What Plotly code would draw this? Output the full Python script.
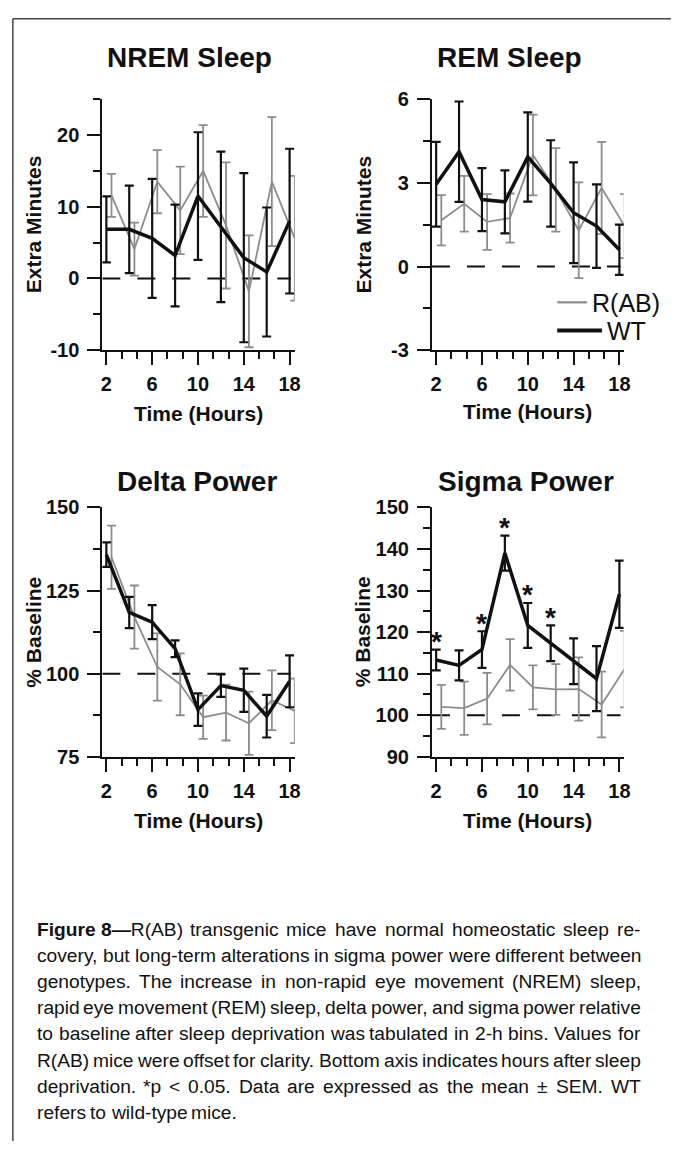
import plotly.graph_objects as go

W, H = 678, 1155

# ---------------- data ----------------
hours = [2, 4, 6, 8, 10, 12, 14, 16, 18]
rab_offset = 0.45  # R(AB) values are drawn offset for clarity

nrem_wt_mean = [6.85, 6.85, 5.6, 3.2, 11.5, 7.2, 2.9, 0.9, 8.0]
nrem_wt_sem = [4.6, 6.1, 8.3, 7.1, 8.9, 10.5, 11.8, 9.0, 10.1]
nrem_rab_mean = [11.6, 4.1, 13.5, 9.5, 15.0, 7.4, -1.8, 13.5, 5.6]
nrem_rab_sem = [3.0, 3.7, 4.4, 6.1, 6.4, 8.8, 7.8, 9.0, 8.7]

rem_wt_mean = [2.95, 4.12, 2.4, 2.32, 3.93, 2.98, 1.93, 1.45, 0.6]
rem_wt_sem = [1.52, 1.8, 1.13, 1.13, 1.6, 1.55, 1.81, 1.5, 0.9]
rem_rab_mean = [1.66, 2.25, 1.6, 1.74, 4.0, 2.75, 1.3, 2.82, 1.45]
rem_rab_sem = [0.9, 1.0, 1.0, 0.88, 1.45, 1.5, 1.72, 1.65, 1.15]

delta_wt_mean = [135.8, 118.4, 115.5, 107.5, 89.2, 96.4, 95.0, 87.2, 97.7]
delta_wt_sem = [3.7, 4.7, 5.1, 2.5, 4.9, 3.4, 6.5, 6.4, 7.8]
delta_rab_mean = [135.0, 117.0, 102.0, 96.8, 86.9, 88.3, 85.1, 92.0, 88.8]
delta_rab_sem = [9.5, 9.5, 10.1, 9.3, 6.5, 8.4, 9.5, 9.0, 9.7]

sigma_wt_mean = [113.3, 112.0, 115.8, 139.0, 121.6, 117.3, 113.0, 108.8, 129.1]
sigma_wt_sem = [2.5, 3.6, 4.4, 4.2, 5.4, 4.3, 5.5, 7.8, 8.1]
sigma_rab_mean = [102.0, 101.7, 104.0, 112.1, 106.7, 106.2, 106.3, 102.6, 111.1]
sigma_rab_sem = [5.3, 6.4, 6.2, 6.2, 5.3, 6.1, 7.6, 7.9, 9.2]
sigma_significant_hours = [2, 6, 8, 10, 12]

panel_titles = ["NREM Sleep", "REM Sleep", "Delta Power", "Sigma Power"]
y_titles = ["Extra Minutes", "Extra Minutes", "% Baseline", "% Baseline"]
x_title = "Time (Hours)"
x_tickvals = [2, 6, 10, 14, 18]
x_ticktext = ["2", "6", "10", "14", "18"]
nrem_tickvals = [-10, 0, 10, 20]
nrem_ticktext = ["-10", "0", "10", "20"]
rem_tickvals = [-3, 0, 3, 6]
rem_ticktext = ["-3", "0", "3", "6"]
delta_tickvals = [75, 100, 125, 150]
delta_ticktext = ["75", "100", "125", "150"]
sigma_tickvals = [90, 100, 110, 120, 130, 140, 150]
sigma_ticktext = ["90", "100", "110", "120", "130", "140", "150"]
baselines = [0, 0, 100, 100]
legend_labels = ["R(AB)", "WT"]

caption_bold = "Figure 8\u2014"
caption_lines = [
    "R(AB) transgenic mice have normal homeostatic sleep re-",
    "covery, but long-term alterations in sigma power were different between",
    "genotypes. The increase in non-rapid eye movement (NREM) sleep,",
    "rapid eye movement (REM) sleep, delta power, and sigma power relative",
    "to baseline after sleep deprivation was tabulated in 2-h bins. Values for",
    "R(AB) mice were offset for clarity. Bottom axis indicates hours after sleep",
    "deprivation. *p < 0.05. Data are expressed as the mean \u00b1 SEM. WT",
    "refers to wild-type mice.",
]

# ---------------- styling / layout ----------------
FONT = "Liberation Sans, Arial, Helvetica, sans-serif"
BLACK = "#111111"
GRAY = "#8c8c8c"

# Arial / Liberation Sans advance widths (per 1000 em) for caption justification
_REG = {" ": 278, "!": 278, "%": 889, "(": 333, ")": 333, "*": 389, "+": 584, ",": 278,
        "-": 333, ".": 278, "/": 278, ":": 278, ";": 278, "<": 584, "=": 584, ">": 584,
        "\u00b1": 584, "\u2014": 1000,
        "A": 667, "B": 667, "C": 722, "D": 722, "E": 667, "F": 611, "G": 778, "H": 722,
        "I": 278, "J": 500, "K": 667, "L": 556, "M": 833, "N": 722, "O": 778, "P": 667,
        "Q": 778, "R": 722, "S": 667, "T": 611, "U": 722, "V": 667, "W": 944, "X": 667,
        "Y": 667, "Z": 611,
        "a": 556, "b": 556, "c": 500, "d": 556, "e": 556, "f": 278, "g": 556, "h": 556,
        "i": 222, "j": 222, "k": 500, "l": 222, "m": 833, "n": 556, "o": 556, "p": 556,
        "q": 556, "r": 333, "s": 500, "t": 278, "u": 556, "v": 500, "w": 722, "x": 500,
        "y": 500, "z": 500}
for _d in "0123456789":
    _REG[_d] = 556
_BOLD = {"F": 611, "i": 278, "g": 611, "u": 611, "r": 389, "e": 556, " ": 278,
         "8": 556, "\u2014": 1000}


def text_w(s, size, table=_REG):
    return sum(table.get(c, 556) for c in s) * size / 1000.0


def px_x(p):
    return p / W


def px_y(p):
    return 1 - p / H


panels = [
    dict(mean=(nrem_rab_mean, nrem_wt_mean), sem=(nrem_rab_sem, nrem_wt_sem),
         tv=nrem_tickvals, tt=nrem_ticktext, yr=[-10, 25], ymin=5,
         box=(101.7, 296.7, 90, 345.7), xr=[1.65, 18.45],
         title_xy=(190, 47), xt_y=410, yt_x=32),
    dict(mean=(rem_rab_mean, rem_wt_mean), sem=(rem_rab_sem, rem_wt_sem),
         tv=rem_tickvals, tt=rem_ticktext, yr=[-3, 6], ymin=1.5,
         box=(435.7, 630, 90, 345.7), xr=[1.63, 18.37],
         title_xy=(514, 47), xt_y=408, yt_x=366.7),
    dict(mean=(delta_rab_mean, delta_wt_mean), sem=(delta_rab_sem, delta_wt_sem),
         tv=delta_tickvals, tt=delta_ticktext, yr=[75, 150], ymin=12.5,
         box=(101.7, 296.7, 506, 760.3), xr=[1.65, 18.45],
         title_xy=(198, 480), xt_y=825, yt_x=32),
    dict(mean=(sigma_rab_mean, sigma_wt_mean), sem=(sigma_rab_sem, sigma_wt_sem),
         tv=sigma_tickvals, tt=sigma_ticktext, yr=[90, 150], ymin=5,
         box=(435.7, 630, 506, 760.3), xr=[1.63, 18.37],
         title_xy=(531, 480), xt_y=825, yt_x=365),
]

fig = go.Figure()
layout = dict(
    width=W, height=H, autosize=False,
    margin=dict(l=0, r=0, t=0, b=0, pad=0),
    paper_bgcolor="white", plot_bgcolor="white",
    showlegend=False,
    font=dict(family=FONT, color=BLACK),
)
shapes = []
annotations = []

tickfont = dict(family=FONT, size=20, color=BLACK, weight="bold")

for i, p in enumerate(panels, start=1):
    sfx = "" if i == 1 else str(i)
    xa, ya = "x" + sfx, "y" + sfx
    x0, x1, yt, yb = p["box"]
    rab_x = [h + rab_offset for h in hours]
    fig.add_trace(go.Scatter(
        x=rab_x, y=p["mean"][0], mode="lines", name=legend_labels[0],
        line=dict(color=GRAY, width=1.8),
        error_y=dict(type="data", array=p["sem"][0], visible=True,
                     color=GRAY, thickness=1.8, width=4.5),
        xaxis=xa, yaxis=ya, hoverinfo="skip"))
    fig.add_trace(go.Scatter(
        x=hours, y=p["mean"][1], mode="lines", name=legend_labels[1],
        line=dict(color=BLACK, width=3.5),
        error_y=dict(type="data", array=p["sem"][1], visible=True,
                     color=BLACK, thickness=2.2, width=4.5),
        xaxis=xa, yaxis=ya, hoverinfo="skip"))

    layout["xaxis" + sfx] = dict(
        domain=[px_x(x0), px_x(x1)], range=p["xr"], anchor=ya,
        showline=True, linecolor=BLACK, linewidth=2,
        ticks="outside", ticklen=13, tickwidth=2, tickcolor=BLACK,
        tickmode="array", tickvals=x_tickvals, ticktext=x_ticktext,
        tickfont=tickfont, ticklabelstandoff=2,
        showgrid=False, zeroline=False, fixedrange=True,
        minor=dict(ticks="outside", ticklen=7, tickwidth=2, tickcolor=BLACK,
                   tick0=2, dtick=4 / 3, showgrid=False),
    )
    layout["yaxis" + sfx] = dict(
        domain=[px_y(yb), px_y(yt)], range=p["yr"], anchor=xa,
        showline=True, linecolor=BLACK, linewidth=2,
        ticks="outside", ticklen=13, tickwidth=2, tickcolor=BLACK,
        tickmode="array", tickvals=p["tv"], ticktext=p["tt"],
        tickfont=tickfont, ticklabelstandoff=4,
        showgrid=False, zeroline=False, fixedrange=True,
        minor=dict(ticks="outside", ticklen=7, tickwidth=2, tickcolor=BLACK,
                   tick0=p["yr"][0], dtick=p["ymin"], showgrid=False),
    )

    shapes.append(dict(type="line", xref=xa, yref=ya, layer="below",
                       x0=p["xr"][0], x1=18.1, y0=baselines[i - 1], y1=baselines[i - 1],
                       line=dict(color=BLACK, width=2, dash="18px,17px")))

    tx, ty = p["title_xy"]
    annotations.append(dict(text=panel_titles[i - 1], xref="paper", yref="paper",
                            x=px_x(tx), y=px_y(ty), xanchor="center", yanchor="middle",
                            showarrow=False,
                            font=dict(family=FONT, size=28, color=BLACK, weight="bold")))
    annotations.append(dict(text=x_title, xref="paper", yref="paper",
                            x=px_x((x0 + x1) / 2), y=px_y(p["xt_y"]),
                            xanchor="center", yanchor="middle", showarrow=False,
                            font=dict(family=FONT, size=21, color=BLACK, weight="bold")))
    annotations.append(dict(text=y_titles[i - 1], xref="paper", yref="paper",
                            x=px_x(p["yt_x"]), y=px_y((yt + yb) / 2), textangle=-90,
                            xanchor="center", yanchor="middle", showarrow=False,
                            font=dict(family=FONT, size=21, color=BLACK, weight="bold")))

for h, m, s in zip(hours, sigma_wt_mean, sigma_wt_sem):
    if h in sigma_significant_hours:
        annotations.append(dict(text="*", xref="x4", yref="y4", x=h, y=m + s,
                                xanchor="center", yanchor="middle", yshift=8,
                                showarrow=False,
                                font=dict(family=FONT, size=28, color=BLACK, weight="bold")))

# legend (inside REM panel)
shapes.append(dict(type="line", xref="paper", yref="paper",
                   x0=px_x(562.7), x1=px_x(593), y0=px_y(297), y1=px_y(297),
                   line=dict(color=GRAY, width=2.2)))
shapes.append(dict(type="line", xref="paper", yref="paper",
                   x0=px_x(562.7), x1=px_x(608), y0=px_y(325.7), y1=px_y(325.7),
                   line=dict(color=BLACK, width=4)))
annotations.append(dict(text=legend_labels[0], xref="paper", yref="paper",
                        x=px_x(596), y=px_y(298), xanchor="left", yanchor="middle",
                        showarrow=False, font=dict(family=FONT, size=25, color=BLACK)))
annotations.append(dict(text=legend_labels[1], xref="paper", yref="paper",
                        x=px_x(611), y=px_y(326), xanchor="left", yanchor="middle",
                        showarrow=False, font=dict(family=FONT, size=25, color=BLACK)))

# frame (top and left rules)
shapes.append(dict(type="line", xref="paper", yref="paper",
                   x0=px_x(11), x1=1, y0=px_y(8), y1=px_y(8),
                   line=dict(color="#444444", width=1.5)))
shapes.append(dict(type="line", xref="paper", yref="paper",
                   x0=px_x(11), x1=px_x(11), y0=px_y(8), y1=px_y(1152),
                   line=dict(color="#444444", width=1.5)))

# caption: justified lines, one word per annotation
CAP_SIZE = 19.2
CAP_L, CAP_R = 33, 645
cap_top, cap_step = 936, 26.7
for k, line in enumerate(caption_lines):
    words = line.split(" ")
    widths = [text_w(wd, CAP_SIZE) for wd in words]
    texts = [wd.replace("<", "&lt;") for wd in words]
    if k == 0:
        widths[0] += text_w(caption_bold, CAP_SIZE, _BOLD)
        texts[0] = "<b>" + caption_bold + "</b>" + texts[0]
    last = k == len(caption_lines) - 1
    if last or len(words) == 1:
        gap = text_w(" ", CAP_SIZE)
    else:
        gap = (CAP_R - CAP_L - sum(widths)) / (len(words) - 1)
    x = CAP_L
    ypos = px_y(cap_top + k * cap_step)
    for t, wdt in zip(texts, widths):
        annotations.append(dict(text=t, xref="paper", yref="paper",
                                x=px_x(x), y=ypos, xanchor="left", yanchor="middle",
                                align="left", showarrow=False,
                                font=dict(family=FONT, size=CAP_SIZE, color=BLACK)))
        x += wdt + gap

layout["shapes"] = shapes
layout["annotations"] = annotations
fig.update_layout(**layout)

fig.write_html("out.html", config=dict(displayModeBar=False, staticPlot=True))
